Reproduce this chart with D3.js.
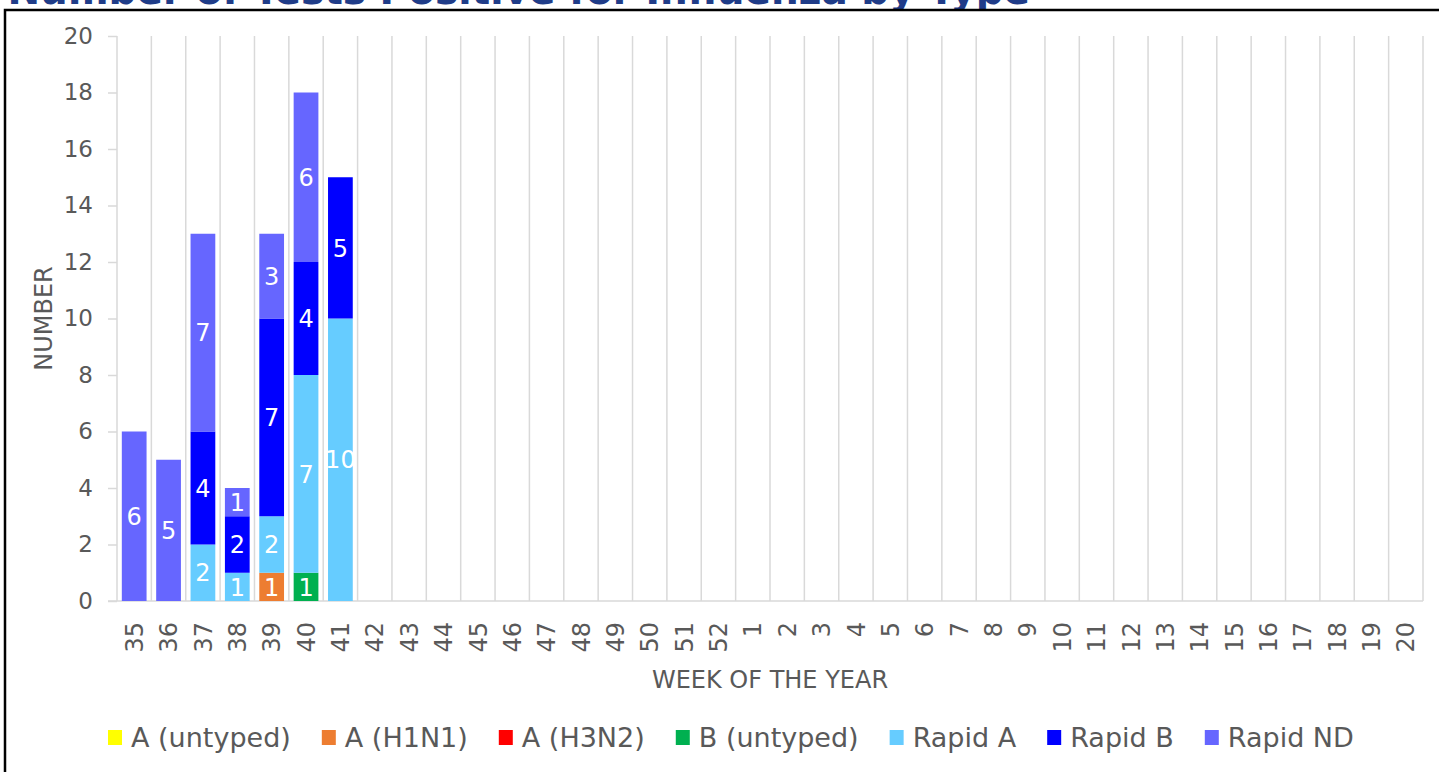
<!DOCTYPE html>
<html>
<head>
<meta charset="utf-8">
<script src="https://cdn.jsdelivr.net/npm/d3@7"></script>
<style>
  body { margin: 0; background: #fff; overflow: hidden; }
  svg { display: block; font-family: "DejaVu Sans", Verdana, sans-serif; }
</style>
</head>
<body>
<div id="chart"></div>
<script>
// week labels, in the order they run on the x axis
var weeks = ["35","36","37","38","39","40","41","42","43","44","45","46","47","48","49","50","51","52",
             "1","2","3","4","5","6","7","8","9","10","11","12","13","14","15","16","17","18","19","20"]

// one array per series, values per week
var aUntyped  = [0,0,0,0,0,0,0, 0,0,0,0,0,0,0,0,0,0,0, 0,0,0,0,0,0,0,0,0,0,0,0,0,0,0,0,0,0,0,0]
var aH1N1     = [0,0,0,0,1,0,0, 0,0,0,0,0,0,0,0,0,0,0, 0,0,0,0,0,0,0,0,0,0,0,0,0,0,0,0,0,0,0,0]
var aH3N2     = [0,0,0,0,0,0,0, 0,0,0,0,0,0,0,0,0,0,0, 0,0,0,0,0,0,0,0,0,0,0,0,0,0,0,0,0,0,0,0]
var bUntyped  = [0,0,0,0,0,1,0, 0,0,0,0,0,0,0,0,0,0,0, 0,0,0,0,0,0,0,0,0,0,0,0,0,0,0,0,0,0,0,0]
var rapidA    = [0,0,2,1,2,7,10, 0,0,0,0,0,0,0,0,0,0,0, 0,0,0,0,0,0,0,0,0,0,0,0,0,0,0,0,0,0,0,0]
var rapidB    = [0,0,4,2,7,4,5, 0,0,0,0,0,0,0,0,0,0,0, 0,0,0,0,0,0,0,0,0,0,0,0,0,0,0,0,0,0,0,0]
var rapidND   = [6,5,7,1,3,6,0, 0,0,0,0,0,0,0,0,0,0,0, 0,0,0,0,0,0,0,0,0,0,0,0,0,0,0,0,0,0,0,0]

var seriesNames  = ["A (untyped)", "A (H1N1)", "A (H3N2)", "B (untyped)", "Rapid A", "Rapid B", "Rapid ND"]
var seriesValues = [aUntyped, aH1N1, aH3N2, bUntyped, rapidA, rapidB, rapidND]
var seriesColors = ["#FFFF00", "#ED7D31", "#FF0000", "#00B050", "#66CCFF", "#0000FF", "#6666FF"]

var yTicks = [0, 2, 4, 6, 8, 10, 12, 14, 16, 18, 20]

var width = 1439,
    height = 772
var plot = {left: 117, right: 1423, top: 36, bottom: 601}
var textGrey = "#595959",
    gridGrey = "#D9D9D9"

var svg = d3.select("#chart")
  .append("svg")
    .attr("width", width)
    .attr("height", height)

// title, mostly scrolled out of view at the top
svg.append("text")
    .attr("x", 1030)
    .attr("y", 4)
    .attr("text-anchor", "end")
    .style("font-size", "39px")
    .style("font-weight", "bold")
    .style("fill", "#1F3C88")
    .text("Number of Tests Positive for Influenza by Type")

// chart frame (white, covers the title's descenders)
svg.append("rect")
    .attr("x", 5)
    .attr("y", 10)
    .attr("width", 1500)
    .attr("height", 800)
    .attr("fill", "#fff")
    .attr("stroke", "#000")
    .attr("stroke-width", 2.5)

// build table for stacking
var table = weeks.map(function(w, i) {
  var row = {week: w}
  seriesNames.forEach(function(s, j) { row[s] = seriesValues[j][i] })
  return row
})
var stacked = d3.stack().keys(seriesNames)(table)

var x = d3.scaleBand()
    .domain(weeks)
    .range([plot.left, plot.right])
    .paddingInner(0.28)
    .paddingOuter(0.14)

var y = d3.scaleLinear()
    .domain([0, 20])
    .range([plot.bottom, plot.top])

var color = d3.scaleOrdinal()
    .domain(seriesNames)
    .range(seriesColors)

// vertical gridlines on category boundaries
var bounds = weeks.map(function(w) { return x(w) - x.step() * 0.14 })
bounds.push(plot.right)
svg.append("g")
  .selectAll("line")
  .data(bounds)
  .enter()
  .append("line")
    .attr("x1", function(d) { return d })
    .attr("x2", function(d) { return d })
    .attr("y1", plot.top)
    .attr("y2", plot.bottom)
    .attr("stroke", gridGrey)
    .attr("stroke-width", 1.5)

// y axis
var yAxis = svg.append("g")
    .attr("transform", "translate(" + plot.left + ",0)")
    .call(d3.axisLeft(y).tickValues(yTicks).tickSize(9).tickPadding(15))
yAxis.select(".domain").remove()
yAxis.selectAll("line").attr("stroke", gridGrey).attr("stroke-width", 1.5)
yAxis.selectAll("text")
    .style("font-size", "23px")
    .style("font-family", "DejaVu Sans, Verdana, sans-serif")
    .attr("fill", textGrey)

// x axis
var xAxis = svg.append("g")
    .attr("transform", "translate(0," + plot.bottom + ")")
    .call(d3.axisBottom(x).tickSize(0))
xAxis.select(".domain").remove()
xAxis.append("line")
    .attr("x1", plot.left - 9)
    .attr("x2", plot.right)
    .attr("stroke", gridGrey)
    .attr("stroke-width", 1.5)
xAxis.selectAll(".tick text")
    .attr("transform", "rotate(-90)")
    .attr("x", -21)
    .attr("y", 0)
    .attr("dy", "0.36em")
    .attr("text-anchor", "end")
    .style("font-size", "24px")
    .style("font-family", "DejaVu Sans, Verdana, sans-serif")
    .attr("fill", textGrey)

// bars
var layers = svg.append("g")
  .selectAll("g")
  .data(stacked)
  .enter()
  .append("g")
    .attr("fill", function(d) { return color(d.key) })

layers.selectAll("rect")
  .data(function(d) { return d })
  .enter()
  .append("rect")
    .attr("x", function(d) { return x(d.data.week) })
    .attr("y", function(d) { return y(d[1]) })
    .attr("width", x.bandwidth())
    .attr("height", function(d) { return y(d[0]) - y(d[1]) })

// value labels
layers.selectAll("text")
  .data(function(d) { return d.filter(function(p) { return p[1] - p[0] > 0 }) })
  .enter()
  .append("text")
    .attr("x", function(d) { return x(d.data.week) + x.bandwidth() / 2 })
    .attr("y", function(d) { return y((d[0] + d[1]) / 2) })
    .attr("dy", "0.36em")
    .attr("text-anchor", "middle")
    .style("font-size", "24px")
    .style("fill", "#fff")
    .text(function(d) { return d[1] - d[0] })

// axis titles
svg.append("text")
    .attr("transform", "translate(52," + (plot.top + plot.bottom) / 2 + ") rotate(-90)")
    .attr("text-anchor", "middle")
    .style("font-size", "24px")
    .style("fill", textGrey)
    .text("NUMBER")

svg.append("text")
    .attr("x", (plot.left + plot.right) / 2)
    .attr("y", 688)
    .attr("text-anchor", "middle")
    .style("font-size", "24px")
    .style("fill", textGrey)
    .text("WEEK OF THE YEAR")

// legend
var legend = svg.append("g")
var lx = 108
seriesNames.forEach(function(s) {
  legend.append("rect")
      .attr("x", lx)
      .attr("y", 730)
      .attr("width", 14)
      .attr("height", 15)
      .attr("fill", color(s))
  var t = legend.append("text")
      .attr("x", lx + 23)
      .attr("y", 747)
      .style("font-size", "27px")
      .style("fill", textGrey)
      .text(s)
  lx += 23 + t.node().getComputedTextLength() + 31
})
</script>
</body>
</html>
